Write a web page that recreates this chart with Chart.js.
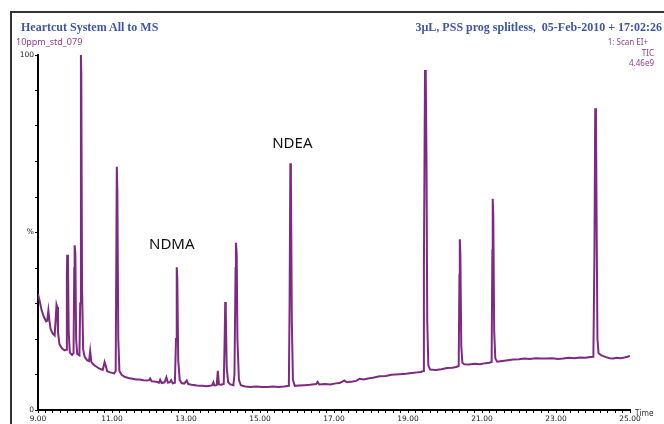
<!DOCTYPE html>
<html>
<head>
<meta charset="utf-8">
<script src="https://cdn.jsdelivr.net/npm/chart.js@4/dist/chart.umd.min.js"></script>
<style>
  body { margin: 0; background: #fff; }
  #wrap { position: relative; width: 664px; height: 424px; overflow: hidden; }
  #frame { position: absolute; left: 10px; top: 11px; width: 700px; height: 460px;
           border-top: 2px solid #333; border-left: 2px solid #333; }
  canvas { position: absolute; left: 0; top: 0; }
  .t { position: absolute; white-space: pre; line-height: 1; }
  .head { font: bold 12px "Liberation Serif", serif; color: #3f56a6; top: 20px; }
  .small { font: 9px "Noto Sans", sans-serif; color: #963c96; }
  .tiny { font: 8px "Noto Sans", sans-serif; color: #963c96; right: 10px; }
</style>
</head>
<body>
<div id="wrap">
  <div id="frame"></div>
  <canvas id="myChart" width="664" height="424"></canvas>
  <div class="t head" style="left:21px">Heartcut System All to MS</div>
  <div class="t head" style="right:2px">3µL, PSS prog splitless,  05-Feb-2010 + 17:02:26</div>
  <div class="t small" style="left:16px; top:35px">10ppm_std_079</div>
  <div class="t tiny" style="top:36px; right:16px">1: Scan EI+</div>
  <div class="t tiny" style="top:47px">TIC</div>
  <div class="t tiny" style="top:57px">4.46e9</div>
  <div class="t" style="left:635px; top:407px; font:8px 'Noto Sans', sans-serif; color:#333">Time</div>
</div>
<script>
  // retention time (min) and relative abundance (%)
  const retentionTime = [
    9.00, 9.05, 9.10, 9.16, 9.22, 9.25, 9.28, 9.31, 9.34, 9.40, 9.45, 9.48, 9.50, 9.52, 9.54, 9.58,
    9.65, 9.72, 9.76, 9.78, 9.79, 9.81, 9.83, 9.86, 9.92, 9.96, 9.98, 9.99, 10.01, 10.03, 10.06, 10.12,
    10.14, 10.16, 10.17, 10.19, 10.22, 10.26, 10.33, 10.38, 10.41, 10.44, 10.48, 10.55, 10.65, 10.75, 10.80, 10.83,
    10.87, 10.95, 11.06, 11.10, 11.13, 11.145, 11.17, 11.20, 11.26, 11.35, 11.45, 11.55, 11.65, 11.75, 11.85, 11.95,
    12.00, 12.03, 12.07, 12.15, 12.22, 12.27, 12.30, 12.34, 12.42, 12.47, 12.51, 12.56, 12.60, 12.64, 12.70, 12.73,
    12.75, 12.765, 12.79, 12.83, 12.88, 12.95, 13.02, 13.06, 13.15, 13.25, 13.35, 13.45, 13.55, 13.65, 13.71, 13.74,
    13.77, 13.83, 13.86, 13.89, 13.95, 14.02, 14.045, 14.06, 14.075, 14.10, 14.14, 14.20, 14.28, 14.31, 14.34, 14.35,
    14.37, 14.39, 14.43, 14.48, 14.60, 14.75, 14.90, 15.05, 15.20, 15.35, 15.50, 15.65, 15.78, 15.80, 15.82, 15.835,
    15.86, 15.89, 15.94, 16.05, 16.20, 16.35, 16.52, 16.56, 16.60, 16.75, 16.90, 17.05, 17.15, 17.28, 17.35, 17.50,
    17.60, 17.69, 17.80, 17.92, 18.05, 18.23, 18.40, 18.55, 18.77, 18.95, 19.10, 19.25, 19.35, 19.41, 19.43, 19.46,
    19.48, 19.50, 19.52, 19.55, 19.60, 19.75, 19.90, 20.05, 20.20, 20.30, 20.37, 20.39, 20.40, 20.415, 20.44, 20.47,
    20.52, 20.65, 20.80, 20.95, 21.10, 21.20, 21.26, 21.28, 21.29, 21.305, 21.33, 21.36, 21.41, 21.55, 21.70, 21.84,
    22.00, 22.15, 22.29, 22.45, 22.60, 22.74, 22.90, 23.05, 23.19, 23.35, 23.50, 23.64, 23.80, 23.92, 24.01, 24.04,
    24.06, 24.08, 24.10, 24.12, 24.15, 24.23, 24.35, 24.45, 24.54, 24.65, 24.75, 24.85, 24.93, 25.00
  ];
  const abundance = [
    32.6, 30.5, 28.0, 26.2, 25.0, 25.2, 28.0, 25.0, 22.8, 21.5, 21.0, 26.0, 29.7, 29.0, 22.0, 18.5,
    17.3, 16.8, 17.0, 38.0, 43.7, 42.5, 22.0, 16.2, 15.5, 16.0, 40.0, 46.4, 44.0, 20.0, 15.8, 15.4,
    30.0, 100, 95.0, 35.0, 17.0, 15.0, 14.0, 13.8, 16.6, 13.6, 13.0, 12.4, 11.7, 11.3, 13.5, 12.5,
    10.9, 10.6, 10.3, 11.0, 68.5, 62.0, 20.0, 11.0, 9.9, 9.3, 9.0, 8.8, 8.6, 8.6, 8.4, 8.3,
    8.4, 8.9, 8.1, 8.0, 7.9, 7.7, 8.5, 7.6, 7.8, 9.2, 7.7, 7.8, 8.4, 7.5, 7.7, 20.0,
    40.2, 37.0, 14.0, 8.5, 7.6, 7.4, 8.3, 7.3, 7.1, 7.0, 6.8, 6.8, 6.7, 6.8, 7.0, 7.8,
    6.9, 7.0, 11.0, 7.2, 7.1, 7.3, 20.0, 30.4, 28.0, 12.0, 7.8, 7.2, 7.0, 10.0, 40.0, 47.1,
    44.0, 20.0, 8.5, 7.0, 6.6, 6.5, 6.6, 6.5, 6.5, 6.6, 6.5, 6.6, 6.8, 30.0, 69.5, 66.0,
    25.0, 8.5, 6.8, 6.9, 7.0, 7.1, 7.3, 7.9, 7.2, 7.3, 7.2, 7.5, 7.6, 8.3, 7.8, 8.0,
    8.2, 8.8, 8.6, 8.9, 9.1, 9.5, 9.6, 9.9, 10.1, 10.2, 10.4, 10.6, 10.7, 11.0, 40.0, 95.8,
    94.0, 70.0, 25.0, 12.5, 11.4, 11.3, 11.5, 11.8, 11.9, 12.1, 12.4, 38.0, 48.1, 44.0, 18.0, 13.3,
    12.9, 12.8, 13.0, 12.9, 13.2, 13.3, 13.5, 45.0, 59.5, 55.0, 22.0, 14.5, 13.6, 13.8, 14.0, 14.2,
    14.3, 14.5, 14.4, 14.6, 14.5, 14.5, 14.6, 14.4, 14.5, 14.7, 14.6, 14.8, 14.7, 14.9, 15.0, 45.0,
    85.0, 83.0, 50.0, 20.0, 16.0, 15.4, 14.9, 14.6, 14.5, 14.7, 14.6, 14.8, 15.0, 15.2
  ];

  const timeLabels = ['9.00', '11.00', '13.00', '15.00', '17.00', '19.00', '21.00', '23.00', '25.00'];
  const yTickValues = [0, 50, 100];
  const yTickText = ['0', '%', '100'];

  const peakNames = ['NDMA', 'NDEA'];
  const peakLabelTime = [12.0, 15.33];
  const peakLabelLevel = [46.5, 75.0];

  const purple = '#7e2a82';

  const peakLabels = {
    id: 'peakLabels',
    afterDatasetsDraw(chart) {
      const { ctx, scales } = chart;
      ctx.save();
      ctx.font = '15px "Noto Sans", sans-serif';
      ctx.fillStyle = '#111';
      ctx.textAlign = 'left';
      ctx.textBaseline = 'middle';
      for (let i = 0; i < peakNames.length; i++) {
        ctx.fillText(peakNames[i], scales.x.getPixelForValue(peakLabelTime[i]), scales.y.getPixelForValue(peakLabelLevel[i]));
      }
      ctx.restore();
    }
  };

  const points = retentionTime.map((t, i) => ({ x: t, y: abundance[i] }));

  new Chart(document.getElementById('myChart').getContext('2d'), {
    type: 'line',
    data: {
      datasets: [{
        data: points,
        borderColor: purple,
        borderWidth: 2,
        pointRadius: 0,
        tension: 0,
        fill: false
      }]
    },
    options: {
      responsive: false,
      animation: false,
      devicePixelRatio: 1,
      layout: { padding: { left: 0, right: 34, top: 55, bottom: 0 } },
      plugins: { legend: { display: false }, tooltip: { enabled: false } },
      scales: {
        x: {
          type: 'linear',
          min: 9,
          max: 25,
          afterFit: s => { s.height = 14; },
          afterBuildTicks: s => {
            const ticks = [];
            for (let i = 0; i <= 80; i++) ticks.push({ value: Math.round((9 + i * 0.2) * 10) / 10 });
            s.ticks = ticks;
          },
          border: { display: true, color: '#000', width: 2 },
          grid: { drawOnChartArea: false, drawTicks: true, tickLength: 3, color: '#000', lineWidth: 1 },
          ticks: {
            autoSkip: false,
            maxRotation: 0,
            padding: 2,
            color: '#222',
            font: { family: 'DejaVu Sans', size: 7.5 },
            callback: v => {
              const lbl = timeLabels.find(l => Math.abs(parseFloat(l) - v) < 1e-6);
              return lbl || '';
            }
          }
        },
        y: {
          min: 0,
          max: 100,
          afterFit: s => { s.width = 38; },
          afterBuildTicks: s => {
            const ticks = [];
            for (let v = 0; v <= 100; v += 10) ticks.push({ value: v });
            s.ticks = ticks;
          },
          border: { display: true, color: '#000', width: 2 },
          grid: { drawOnChartArea: false, drawTicks: true, tickLength: 3, color: '#000', lineWidth: 1 },
          ticks: {
            autoSkip: false,
            padding: 1,
            color: '#222',
            font: { family: 'DejaVu Sans', size: 7.5 },
            callback: v => {
              const k = yTickValues.indexOf(v);
              return k >= 0 ? yTickText[k] : '';
            }
          }
        }
      }
    },
    plugins: [peakLabels]
  });
</script>
</body>
</html>
